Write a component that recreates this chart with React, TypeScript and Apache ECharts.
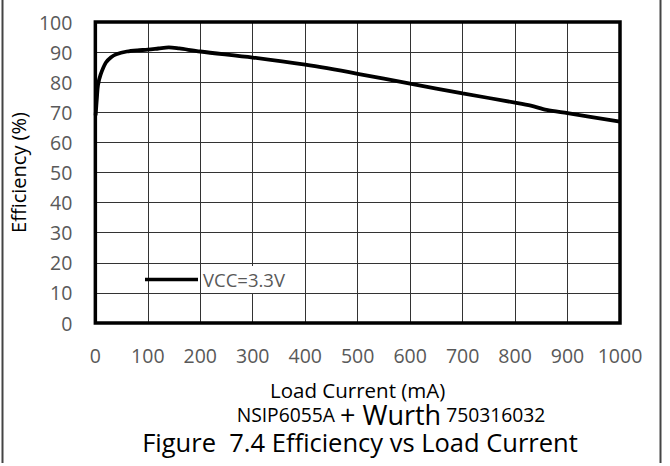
import React, { useEffect, useRef } from "react";
import * as echarts from "echarts";

// Efficiency curve, VCC = 3.3V
const loadCurrent = [0.5, 3, 5, 10, 20, 30, 40, 60, 80, 100, 120, 140, 160, 200, 300, 400, 500, 600, 700, 800, 830, 860, 900, 1000];
const efficiency = [69, 75, 79, 82.5, 86.5, 88.3, 89.3, 90.2, 90.6, 90.8, 91.2, 91.6, 91.2, 90.2, 88.2, 85.8, 82.8, 79.5, 76.3, 73.2, 72.2, 70.8, 69.7, 66.9];

const seriesName = "VCC=3.3V";
const xTitle = "Load Current (mA)";
const yTitle = "Efficiency (%)";
const subtitleParts = ["NSIP6055A", "+ Wurth", "750316032"];
const figureTitle = "Figure  7.4 Efficiency vs Load Current";

const FONT = "Open Sans";
const W = 670;
const H = 466;

export default function App() {
  const ref = useRef<HTMLDivElement>(null);

  useEffect(() => {
    if (!ref.current) return;
    const chart = echarts.init(ref.current, undefined, { renderer: "svg" });
    const points = loadCurrent.map((x, i) => [x, efficiency[i]]);

    chart.setOption({
      animation: false,
      backgroundColor: "#fff",
      textStyle: { fontFamily: FONT },
      grid: {
        left: 94,
        right: 50,
        top: 22,
        bottom: 143,
        containLabel: false,
        show: true,
        borderColor: "#000",
        borderWidth: 3.5,
        backgroundColor: "transparent",
        z: 3,
      },
      legend: {
        show: true,
        left: 145,
        top: 266,
        icon: "rect",
        itemWidth: 53,
        itemHeight: 3.5,
        itemGap: 0,
        padding: 0,
        data: [seriesName],
        textStyle: {
          fontFamily: FONT,
          fontSize: 18.5,
          color: "#595959",
          backgroundColor: "#fff",
          padding: [4, 3, 4, 0],
        },
      },
      xAxis: {
        type: "value",
        min: 0,
        max: 1000,
        interval: 100,
        name: xTitle,
        nameLocation: "middle",
        nameGap: 56,
        nameTextStyle: { fontFamily: FONT, fontSize: 20.5, color: "#000", lineHeight: 22 },
        axisLine: { show: false },
        axisTick: { show: false },
        axisLabel: {
          margin: 22,
          fontFamily: FONT,
          fontSize: 19.5,
          color: "#595959",
          formatter: (v: number) => String(v),
        },
        splitLine: { show: true, lineStyle: { color: "#333", width: 1 } },
      },
      yAxis: {
        type: "value",
        min: 0,
        max: 100,
        interval: 10,
        name: yTitle,
        nameLocation: "middle",
        nameGap: 51,
        nameTextStyle: { fontFamily: FONT, fontSize: 20, color: "#000" },
        axisLine: { show: false },
        axisTick: { show: false },
        axisLabel: {
          margin: 23,
          fontFamily: FONT,
          fontSize: 19.5,
          color: "#595959",
          formatter: (v: number) => String(v),
        },
        splitLine: { show: true, lineStyle: { color: "#333", width: 1 } },
      },
      series: [
        {
          name: seriesName,
          type: "line",
          data: points,
          smooth: 0.3,
          symbol: "none",
          lineStyle: { color: "#000", width: 3.8 },
          itemStyle: { color: "#000" },
          z: 4,
        },
      ],
      graphic: [
        {
          type: "line",
          shape: { x1: 2.5, y1: 0, x2: 2.5, y2: 463 },
          style: { stroke: "#444", lineWidth: 2 },
        },
        {
          type: "line",
          shape: { x1: 660.5, y1: 0, x2: 660.5, y2: 463 },
          style: { stroke: "#444", lineWidth: 2 },
        },
        {
          type: "text",
          x: 391,
          y: 414,
          style: {
            text: `{a|${subtitleParts[0]} }{b|${subtitleParts[1]}}{a| ${subtitleParts[2]}}`,
            align: "center",
            verticalAlign: "middle",
            rich: {
              a: { fontFamily: FONT, fontSize: 19.3, fill: "#000", lineHeight: 20 },
              b: { fontFamily: FONT, fontSize: 27, fill: "#000", lineHeight: 22 },
            },
          },
        },
        {
          type: "text",
          x: 360,
          y: 442,
          style: {
            text: figureTitle,
            align: "center",
            verticalAlign: "middle",
            fontFamily: FONT,
            fontSize: 25.5,
            lineHeight: 24,
            fill: "#000",
          },
        },
      ],
    });

    return () => chart.dispose();
  }, []);

  return (
    <div
      ref={ref}
      style={{ position: "fixed", left: 0, top: 0, width: W, height: H }}
    />
  );
}
